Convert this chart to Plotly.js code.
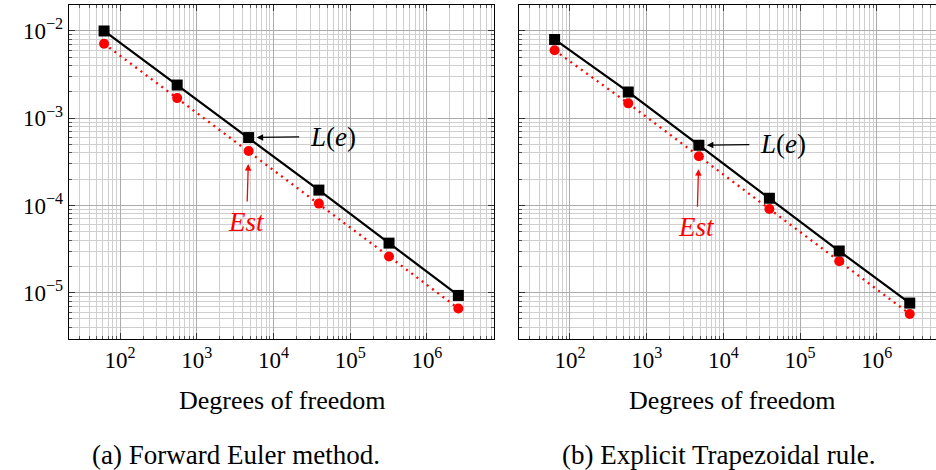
<!DOCTYPE html>
<html>
<head>
<meta charset="utf-8">
<script src="https://cdn.plot.ly/plotly-3.0.1.min.js"></script>
<style>
  html, body { margin: 0; padding: 0; background: #fff; }
  #chart { width: 936px; height: 470px; }
</style>
</head>
<body>
<div id="chart"></div>
<script>
// ---- data ----
const dofA = [62, 556, 4750, 39100, 321000, 2570000];
const errA = [1.0e-2, 2.4e-3, 6.0e-4, 1.5e-4, 3.7e-5, 9.3e-6];
const estA = [7.15e-3, 1.7e-3, 4.2e-4, 1.05e-4, 2.6e-5, 6.6e-6];

const dofB = [63, 575, 4790, 39800, 324000, 2690000];
const errB = [8.0e-3, 2.0e-3, 4.9e-4, 1.21e-4, 3.0e-5, 7.6e-6];
const estB = [6.0e-3, 1.48e-3, 3.67e-4, 9.1e-5, 2.3e-5, 5.7e-6];

const xTickVals = [1e2, 1e3, 1e4, 1e5, 1e6];
const xTickText = ['10<sup>2</sup>', '10<sup>3</sup>', '10<sup>4</sup>', '10<sup>5</sup>', '10<sup>6</sup>'];
const yTickVals = [1e-5, 1e-4, 1e-3, 1e-2];
const yTickText = ['10<sup>−5</sup>', '10<sup>−4</sup>', '10<sup>−3</sup>', '10<sup>−2</sup>'];

const xLabel = 'Degrees of freedom';
const captionA = '(a) Forward Euler method.';
const captionB = '(b) Explicit Trapezoidal rule.';
const errName = '<i>L</i>(<i>e</i>)';
const estName = '<i>Est</i>';

// minor tick positions (2..9 per decade)
function minorVals(k0, k1) {
  const out = [];
  for (let k = k0; k <= k1; k++) for (let m = 2; m <= 9; m++) out.push(m * Math.pow(10, k));
  return out;
}
const xMinor = minorVals(1, 6);
const yMinor = minorVals(-6, -2);

const SERIF = '"Liberation Serif", "Times New Roman", Times, "DejaVu Serif", serif';
const tickFont = { family: SERIF, size: 23, color: '#000' };
const labelFont = { family: SERIF, size: 26, color: '#000' };
const captionFont = { family: SERIF, size: 27, color: '#000' };

function xAxis(domain, range, anchor) {
  return {
    type: 'log', domain: domain, range: range, anchor: anchor,
    tickmode: 'array', tickvals: xTickVals, ticktext: xTickText,
    ticks: 'inside', ticklen: 6, tickwidth: 1, tickcolor: '#333',
    showline: true, linecolor: '#000', linewidth: 1.2, mirror: 'allticks',
    showgrid: true, gridcolor: '#ababab', gridwidth: 1,
    minor: { tickmode: 'array', tickvals: xMinor, ticks: 'inside', ticklen: 3, tickcolor: '#555',
             showgrid: true, gridcolor: '#cfcfcf', gridwidth: 1 },
    tickfont: tickFont, zeroline: false, fixedrange: true
  };
}
function yAxis(domain, range, anchor, showLabels, mirror) {
  return {
    type: 'log', domain: domain, range: range, anchor: anchor,
    tickmode: 'array', tickvals: yTickVals, ticktext: yTickText,
    showticklabels: showLabels,
    ticks: 'inside', ticklen: 6, tickwidth: 1, tickcolor: '#333',
    showline: true, linecolor: '#000', linewidth: 1.2, mirror: mirror,
    showgrid: true, gridcolor: '#ababab', gridwidth: 1,
    minor: { tickmode: 'array', tickvals: yMinor, ticks: 'inside', ticklen: 3, tickcolor: '#555',
             showgrid: true, gridcolor: '#cfcfcf', gridwidth: 1 },
    tickfont: tickFont, zeroline: false, fixedrange: true
  };
}

function errTrace(x, y, xa, ya) {
  return { x: x, y: y, xaxis: xa, yaxis: ya, mode: 'lines+markers', type: 'scatter',
    line: { color: '#000', width: 2.2 }, marker: { symbol: 'square', size: 11, color: '#000' },
    showlegend: false, hoverinfo: 'skip' };
}
function estTrace(x, y, xa, ya) {
  return { x: x, y: y, xaxis: xa, yaxis: ya, mode: 'lines+markers', type: 'scatter',
    line: { color: '#ff0000', width: 2.3, dash: '2px,4.5px' }, marker: { symbol: 'circle', size: 10, color: '#ff0000' },
    showlegend: false, hoverinfo: 'skip' };
}

const data = [
  estTrace(dofA, estA, 'x', 'y'), errTrace(dofA, errA, 'x', 'y'),
  estTrace(dofB, estB, 'x2', 'y2'), errTrace(dofB, errB, 'x2', 'y2')
];

const yDomain = [0.2787, 0.9894];
const yRange = [-5.531, -1.702];

function labelAnnots(xa, ya, x, e, s) {
  return [
    { xref: xa, yref: ya, x: Math.log10(x[2]), y: Math.log10(e[2]), text: errName,
      showarrow: true, ax: 84, ay: -1, arrowhead: 2, arrowsize: 1, arrowwidth: 1.3, arrowcolor: '#000',
      standoff: 8, borderpad: 10, font: { family: SERIF, size: 27, color: '#000' } },
    { xref: xa, yref: ya, x: Math.log10(x[2]), y: Math.log10(s[2]), text: estName,
      showarrow: true, ax: -2, ay: 71, arrowhead: 2, arrowsize: 1, arrowwidth: 1.3, arrowcolor: '#ff0000',
      standoff: 13, borderpad: 5, font: { family: SERIF, size: 27, color: '#ff0000' } }
  ];
}

function textAnnot(x, y, text, font) {
  return { xref: 'paper', yref: 'paper', x: x / 936, y: (470 - y) / 470, text: text, showarrow: false,
    xanchor: 'center', yanchor: 'middle', font: font };
}

const layout = {
  width: 936, height: 470,
  margin: { l: 0, r: 0, t: 0, b: 0 },
  paper_bgcolor: '#fff', plot_bgcolor: '#fff',
  showlegend: false,
  font: { family: SERIF, color: '#000' },
  xaxis: xAxis([0.0737, 0.5278], [1.335, 6.875], 'y'),
  yaxis: yAxis(yDomain, yRange, 'x', true, 'allticks'),
  xaxis2: xAxis([0.5548, 1.0], [1.339, 6.772], 'y2'),
  yaxis2: yAxis(yDomain, yRange, 'x2', false, false),
  annotations: [
    ...labelAnnots('x', 'y', dofA, errA, estA),
    ...labelAnnots('x2', 'y2', dofB, errB, estB),
    textAnnot(281.5, 400, xLabel, labelFont),
    textAnnot(731.6, 400, xLabel, labelFont),
    textAnnot(236, 455, captionA, captionFont),
    textAnnot(718, 455, captionB, captionFont)
  ]
};

Plotly.newPlot('chart', data, layout, { displayModeBar: false, staticPlot: true });
</script>
</body>
</html>
